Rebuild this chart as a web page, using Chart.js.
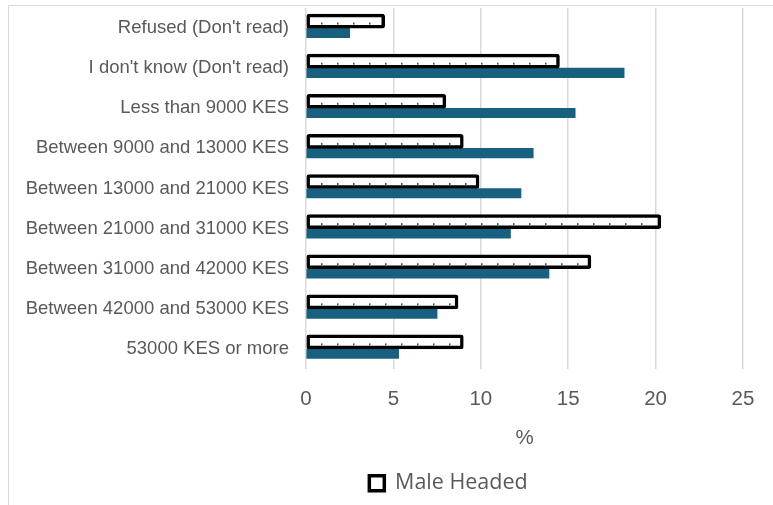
<!DOCTYPE html>
<html>
<head>
<meta charset="utf-8">
<script src="https://cdn.jsdelivr.net/npm/chart.js@4"></script>
<style>
  html, body { margin: 0; padding: 0; background: #fff; }
  #wrap { width: 773px; height: 505px; position: relative; }
</style>
</head>
<body>
<div id="wrap"><canvas id="c" width="773" height="505"></canvas></div>
<script>
// Household monthly income bands
const categories = [
  "Refused (Don't read)",
  "I don't know (Don't read)",
  "Less than 9000 KES",
  "Between 9000 and 13000 KES",
  "Between 13000 and 21000 KES",
  "Between 21000 and 31000 KES",
  "Between 31000 and 42000 KES",
  "Between 42000 and 53000 KES",
  "53000 KES or more"
];
// Share of households (%)
const maleHeaded   = [4.5, 14.5, 8.0, 9.0, 9.9, 20.3, 16.3, 8.7, 9.0];
const femaleHeaded = [2.5, 18.2, 15.4, 13.0, 12.3, 11.7, 13.9, 7.5, 5.3];
const xTicks = [0, 5, 10, 15, 20, 25];

const BLUE = '#18607f';
const GREY_TEXT = '#595959';
const AXIS_FONT = 'Liberation Sans, Arial, sans-serif';

// Light frame around the whole chart
const framePlugin = {
  id: 'frame',
  beforeDraw(chart) {
    const ctx = chart.ctx;
    ctx.save();
    ctx.strokeStyle = '#d9d9d9';
    ctx.lineWidth = 1;
    ctx.strokeRect(8.5, 5.5, 800, 520);
    ctx.restore();
  }
};

// The legend sits centred under the full (wider) frame, so nudge it right
const legendShift = {
  id: 'legendShift',
  afterUpdate(chart) {
    const lg = chart.legend;
    if (!lg) return;
    lg.left += 73;
    lg.right += 73;
    lg.adjustHitBoxes();
  }
};

// Small blue dots along the inside bottom edge of the outlined bars and the legend box
const dotsPlugin = {
  id: 'dots',
  afterDatasetDraw(chart, args) {
    if (args.index !== 0) return;
    const ctx = chart.ctx;
    const meta = chart.getDatasetMeta(0);
    ctx.save();
    ctx.fillStyle = BLUE;
    meta.data.forEach(bar => {
      const p = bar.getProps(['x', 'y', 'base', 'height'], true);
      const yDot = p.y + p.height / 2 - 5.5;
      for (let x = p.base + 14; x < p.x - 5; x += 16) {
        ctx.fillRect(Math.round(x), yDot, 1.5, 2);
      }
    });
    ctx.restore();
  },
  afterDraw(chart) {
    const boxes = chart.legend && chart.legend.legendHitBoxes;
    if (!boxes || !boxes.length) return;
    const b = boxes[0];
    const ctx = chart.ctx;
    ctx.save();
    ctx.fillStyle = BLUE;
    ctx.fillRect(b.left + 6, b.top + b.height / 2, 1.5, 2);
    ctx.restore();
  }
};

new Chart(document.getElementById('c'), {
  type: 'bar',
  data: {
    labels: categories,
    datasets: [
      {
        label: 'Male Headed',
        data: maleHeaded,
        backgroundColor: '#ffffff',
        borderColor: '#000000',
        borderWidth: 3.5,
        borderRadius: 2.5,
        borderSkipped: false,
        categoryPercentage: 0.575,
        barPercentage: 1.0,
        barThickness: 14
      },
      {
        label: 'Female Headed',
        data: femaleHeaded,
        backgroundColor: BLUE,
        borderWidth: 0,
        categoryPercentage: 0.575,
        barPercentage: 1.0,
        barThickness: 9.5
      }
    ]
  },
  options: {
    indexAxis: 'y',
    responsive: false,
    animation: false,
    devicePixelRatio: 1,
    layout: { padding: { left: 8, right: 30, top: 8, bottom: 1 } },
    scales: {
      x: {
        min: 0,
        max: 25,
        afterBuildTicks(scale) {
          scale.ticks = xTicks.map(v => ({ value: v }));
        },
        afterFit(scale) { scale.height = 93.5; },
        grid: { color: '#d9d9d9', lineWidth: 1.5, drawTicks: false },
        border: { display: false },
        ticks: {
          color: GREY_TEXT,
          padding: 18,
          font: { family: AXIS_FONT, size: 20.5 }
        },
        title: {
          display: true,
          text: '%',
          color: GREY_TEXT,
          padding: { top: 4, bottom: 12 },
          font: { family: AXIS_FONT, size: 20.5 }
        }
      },
      y: {
        grid: { display: false, drawTicks: false },
        border: { display: false },
        afterFit(scale) {
          scale.width = 298;
          scale.paddingTop = 0;
          scale.paddingBottom = 0;
        },
        ticks: {
          color: GREY_TEXT,
          padding: 17,
          font: { family: AXIS_FONT, size: 18.5 }
        }
      }
    },
    plugins: {
      tooltip: { enabled: false },
      legend: {
        position: 'bottom',
        labels: {
          filter: item => item.datasetIndex === 0,
          color: GREY_TEXT,
          boxWidth: 15,
          boxHeight: 15,
          padding: 10,
          font: { family: 'Open Sans, Noto Sans, sans-serif', size: 21.5 }
        }
      }
    }
  },
  plugins: [framePlugin, legendShift, dotsPlugin]
});
</script>
</body>
</html>
